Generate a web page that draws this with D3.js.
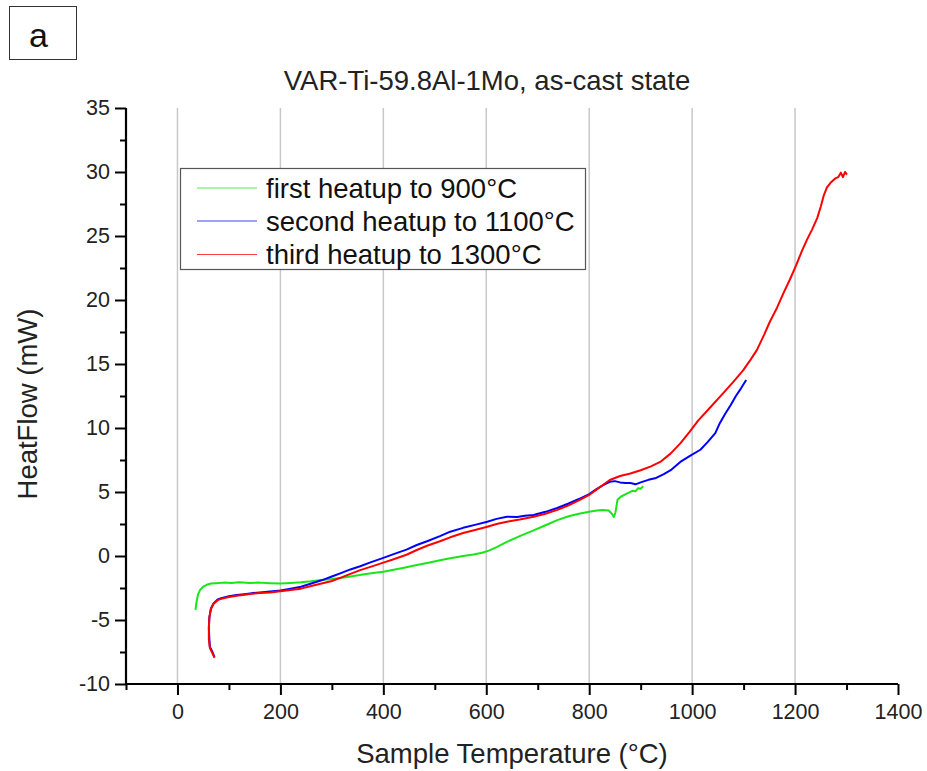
<!DOCTYPE html>
<html>
<head>
<meta charset="utf-8">
<script src="https://cdn.jsdelivr.net/npm/d3@7/dist/d3.min.js"></script>
<style>
  body { margin: 0; background: #fff; }
  svg { display: block; font-family: "Liberation Sans", Arial, sans-serif; }
</style>
</head>
<body>
<svg id="chart" width="927" height="771"></svg>
<script>
// DSC heat flow traces (temperature in °C, heat flow in mW)
const firstHeatup = [
  [35,-4.2],[37,-3.6],[40,-3.0],[44,-2.65],[50,-2.4],[57,-2.25],[65,-2.15],[75,-2.12],
  [90,-2.08],[105,-2.1],[120,-2.06],[140,-2.1],[160,-2.08],[180,-2.12],[200,-2.15],
  [220,-2.1],[240,-2.05],[260,-1.98],[280,-1.88],[300,-1.8],[320,-1.7],[336,-1.6],
  [360,-1.45],[380,-1.33],[400,-1.23],[420,-1.08],[440,-0.92],[465,-0.7],[490,-0.5],
  [510,-0.33],[530,-0.18],[555,0.0],[575,0.12],[592,0.25],[605,0.42],[620,0.7],[640,1.1],
  [665,1.55],[692,2.0],[715,2.4],[738,2.8],[760,3.1],[780,3.3],[800,3.46],[815,3.55],
  [826,3.6],[838,3.55],[844,3.3],[848,3.05],[851,3.4],[855,4.4],[862,4.65],[872,4.85],
  [885,5.1],[890,5.05],[895,5.3],[900,5.25],[905,5.45]
];
const secondHeatup = [
  [72,-7.9],[68,-7.5],[63,-7.1],[62,-6.5],[61,-5.6],[62,-4.8],[65,-4.1],[70,-3.7],
  [78,-3.4],[85,-3.3],[100,-3.15],[115,-3.05],[130,-2.98],[145,-2.9],[160,-2.85],
  [180,-2.78],[200,-2.7],[220,-2.55],[240,-2.4],[260,-2.15],[280,-1.9],[300,-1.6],
  [320,-1.3],[336,-1.05],[355,-0.8],[375,-0.5],[400,-0.15],[420,0.15],[445,0.5],
  [465,0.86],[485,1.15],[510,1.55],[530,1.9],[555,2.2],[580,2.45],[602,2.68],[620,2.9],
  [640,3.07],[660,3.05],[675,3.15],[692,3.2],[715,3.45],[738,3.75],[760,4.1],[780,4.45],
  [800,4.84],[815,5.25],[828,5.55],[840,5.8],[850,5.85],[860,5.75],[870,5.7],[880,5.7],
  [890,5.6],[900,5.75],[915,5.95],[930,6.1],[945,6.4],[960,6.75],[977,7.35],[995,7.8],
  [1016,8.3],[1030,8.9],[1045,9.6],[1054,10.4],[1064,11.1],[1075,11.8],[1085,12.5],
  [1095,13.1],[1105,13.75]
];
const thirdHeatup = [
  [72,-7.95],[68,-7.6],[63,-7.2],[61,-6.5],[61,-5.6],[62,-4.8],[65,-4.15],[70,-3.75],
  [78,-3.45],[85,-3.35],[100,-3.2],[115,-3.1],[130,-3.02],[145,-2.95],[160,-2.9],
  [180,-2.85],[200,-2.75],[220,-2.65],[240,-2.55],[260,-2.35],[280,-2.15],[300,-1.95],
  [320,-1.65],[336,-1.4],[355,-1.1],[375,-0.85],[400,-0.52],[420,-0.25],[445,0.1],
  [465,0.47],[485,0.8],[510,1.15],[530,1.46],[555,1.8],[580,2.05],[602,2.29],[620,2.5],
  [640,2.68],[665,2.85],[692,3.07],[715,3.3],[738,3.6],[760,3.95],[780,4.35],[800,4.77],
  [820,5.35],[840,5.94],[860,6.25],[880,6.45],[900,6.7],[920,7.0],[938,7.35],[958,8.0],
  [977,8.8],[995,9.7],[1012,10.6],[1035,11.6],[1060,12.7],[1080,13.6],[1099,14.5],
  [1113,15.3],[1126,16.1],[1140,17.3],[1151,18.3],[1165,19.4],[1177,20.5],[1190,21.6],
  [1202,22.7],[1213,23.8],[1223,24.7],[1233,25.5],[1243,26.4],[1250,27.3],[1256,28.2],
  [1262,28.8],[1270,29.2],[1278,29.5],[1284,29.6],[1289,29.95],[1293,29.6],[1297,30.0],
  [1301,29.8]
];

const seriesNames = ["first heatup to 900°C", "second heatup to 1100°C", "third heatup to 1300°C"];
const seriesColors = ["#19e619", "#0000ff", "#ff0000"];
const xMajorTicks = [0, 200, 400, 600, 800, 1000, 1200, 1400];
const xMinorTicks = [-100, 100, 300, 500, 700, 900, 1100, 1300];
const xGridTicks = [0, 200, 400, 600, 800, 1000, 1200];
const yMajorTicks = [-10, -5, 0, 5, 10, 15, 20, 25, 30, 35];
const yMinorTicks = [-7.5, -2.5, 2.5, 7.5, 12.5, 17.5, 22.5, 27.5, 32.5];

const svg = d3.select("#chart");
const plot = { left: 126, right: 898, top: 108, bottom: 684 };
const labelFont = 27.5;

const x = d3.scaleLinear().domain([-100, 1400]).range([plot.left, plot.right]);
const y = d3.scaleLinear().domain([-10, 35]).range([plot.bottom, plot.top]);

// panel label
svg.append("rect").attr("x", 9.5).attr("y", 6.5).attr("width", 67).attr("height", 53)
  .attr("fill", "none").attr("stroke", "#333").attr("stroke-width", 1);
svg.append("text").attr("x", 29).attr("y", 47).attr("font-size", 34).attr("fill", "#111").text("a");

// title
svg.append("text").attr("x", 487).attr("y", 90).attr("text-anchor", "middle")
  .attr("font-size", labelFont).attr("fill", "#222").text("VAR-Ti-59.8Al-1Mo, as-cast state");

// vertical grid
svg.append("g").selectAll("line").data(xGridTicks).join("line")
  .attr("x1", d => x(d)).attr("x2", d => x(d))
  .attr("y1", plot.top).attr("y2", plot.bottom)
  .attr("stroke", "#c8c8c8").attr("stroke-width", 1.5);

// curves
const line = d3.line().x(d => x(d[0])).y(d => y(d[1]));
[firstHeatup, secondHeatup, thirdHeatup].forEach((data, i) => {
  svg.append("path").datum(data).attr("d", line)
    .attr("fill", "none").attr("stroke", seriesColors[i])
    .attr("stroke-width", 2).attr("stroke-linejoin", "round");
});

// axes
const fmt = d => String(d);
const xAxis = svg.append("g").attr("transform", `translate(0,${plot.bottom})`)
  .call(d3.axisBottom(x).tickValues(xMajorTicks).tickSize(11).tickPadding(9).tickFormat(fmt));
const xMinor = svg.append("g").attr("transform", `translate(0,${plot.bottom})`)
  .call(d3.axisBottom(x).tickValues(xMinorTicks).tickSize(6).tickFormat(""));
const yAxis = svg.append("g").attr("transform", `translate(${plot.left},0)`)
  .call(d3.axisLeft(y).tickValues(yMajorTicks).tickSize(11).tickPadding(5).tickFormat(fmt));
const yMinor = svg.append("g").attr("transform", `translate(${plot.left},0)`)
  .call(d3.axisLeft(y).tickValues(yMinorTicks).tickSize(6).tickFormat(""));

[xAxis, xMinor, yAxis, yMinor].forEach(g => {
  g.select(".domain").attr("stroke", "#000").attr("stroke-width", 2.2);
  g.selectAll(".tick line").attr("stroke", "#000").attr("stroke-width", 2);
  g.selectAll(".tick text").attr("font-size", 21.5).attr("fill", "#222")
    .attr("font-family", "'Liberation Sans', Arial, sans-serif");
});
xMinor.select(".domain").remove();
yMinor.select(".domain").remove();
xAxis.select(".domain").attr("d", `M${plot.left},0H${plot.right}`);
yAxis.select(".domain").attr("d", `M0,${plot.bottom}V${plot.top}`);

// axis titles
svg.append("text").attr("x", 512).attr("y", 763).attr("text-anchor", "middle")
  .attr("font-size", labelFont).attr("fill", "#222").text("Sample Temperature (°C)");
svg.append("text").attr("transform", "translate(37,404) rotate(-90)").attr("text-anchor", "middle")
  .attr("font-size", labelFont).attr("fill", "#222").text("HeatFlow (mW)");

// legend
const legend = svg.append("g");
legend.append("rect").attr("x", 180.5).attr("y", 168.5).attr("width", 405).attr("height", 101)
  .attr("fill", "#fff").attr("stroke", "#555").attr("stroke-width", 1.2);
const rowY = [188, 221, 254.5];
seriesNames.forEach((name, i) => {
  legend.append("line").attr("x1", 197).attr("x2", 257).attr("y1", rowY[i]).attr("y2", rowY[i])
    .attr("stroke", seriesColors[i]).attr("stroke-width", 1.2).attr("opacity", 0.75);
  legend.append("text").attr("x", 266).attr("y", rowY[i] + 9.5).attr("font-size", labelFont)
    .attr("fill", "#111").text(name);
});
</script>
</body>
</html>
